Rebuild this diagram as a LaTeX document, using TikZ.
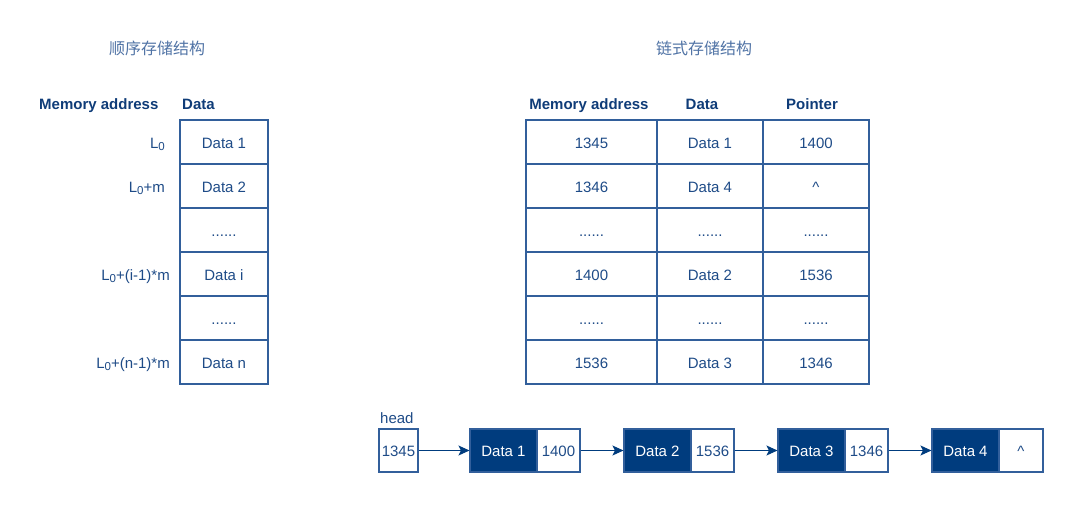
\documentclass[tikz,border=0pt]{standalone}
\usepackage{fontspec}
\setmainfont{Liberation Sans}
\newfontfamily\cjk{Noto Sans CJK SC}
\usetikzlibrary{arrows.meta}
\definecolor{dk}{RGB}{0,60,126}
\definecolor{ln}{RGB}{50,95,155}
\definecolor{tx}{RGB}{30,75,135}
\definecolor{hd}{RGB}{15,60,120}
\definecolor{tt}{RGB}{80,115,165}
\newcommand\mydots{......}
\newcommand\mycaret{\^{}}
\newcommand\sub[1]{\raisebox{-0.35ex}{\fontsize{11.5}{12}\selectfont #1}}
\begin{document}
\begin{tikzpicture}[x=1pt,y=-1pt,
  txt/.style={text=tx, font=\fontsize{15}{17}\selectfont, inner sep=0pt},
  cell/.style={txt, draw=ln, line width=1.1pt, minimum height=44pt, anchor=center, text height=12pt, text depth=0pt},
  hdr/.style={text=hd, font=\fontsize{15}{17}\selectfont\bfseries, inner sep=0pt},
  ttl/.style={text=tt, font=\cjk\fontsize{16}{18}\selectfont, inner sep=0pt},
  lcell/.style={cell, minimum height=43pt},
  dcell/.style={lcell, fill=dk, text=white},
  link/.style={draw=dk, line width=1pt, -{Stealth[length=11pt,width=10pt,inset=2.5pt]}}
]
\useasboundingbox (0,0) rectangle (1080,509);

% titles
\node[ttl] (t1) at (157,48) {顺序存储结构};
\node[ttl] (t2) at (704,48) {链式存储结构};

% left table
\node[hdr, anchor=base west] (lh1) at (39,109.5) {Memory address};
\node[hdr, anchor=base west] (lh2) at (182,109.5) {Data};
\node[cell, minimum width=88pt] (l1) at (224,142) {Data 1};
\node[cell, minimum width=88pt] (l2) at (224,186) {Data 2};
\node[cell, minimum width=88pt] (l3) at (224,230) {\mydots};
\node[cell, minimum width=88pt] (l4) at (224,274) {Data i};
\node[cell, minimum width=88pt] (l5) at (224,318) {\mydots};
\node[cell, minimum width=88pt] (l6) at (224,362) {Data n};
\node[txt, anchor=base east] (a1) at (165,148) {L\sub{0}};
\node[txt, anchor=base east] (a2) at (165,192) {L\sub{0}+m};
\node[txt, anchor=base east] (a4) at (170,280) {L\sub{0}+(i-1)*m};
\node[txt, anchor=base east] (a6) at (170,368) {L\sub{0}+(n-1)*m};

% right table
\node[hdr, anchor=base] (rh1) at (589,109.5) {Memory address};
\node[hdr, anchor=base] (rh2) at (702,109.5) {Data};
\node[hdr, anchor=base] (rh3) at (812,109.5) {Pointer};
\foreach \i/\y/\a/\d/\p in {1/142/1345/Data 1/1400, 2/186/1346/Data 4/\mycaret, 3/230/\mydots/\mydots/\mydots, 4/274/1400/Data 2/1536, 5/318/\mydots/\mydots/\mydots, 6/362/1536/Data 3/1346}{
  \node[cell, minimum width=131pt] (ra\i) at (591.5,\y) {\a};
  \node[cell, minimum width=106pt] (rd\i) at (710,\y) {\d};
  \node[cell, minimum width=106pt] (rp\i) at (816,\y) {\p};
}

% linked list
\node[txt, anchor=base west] (hl) at (380,423) {head};
\node[lcell, minimum width=39pt] (h) at (398.5,450.5) {1345};
\node[dcell, minimum width=67pt] (d1) at (503.5,450.5) {Data 1};
\node[lcell, minimum width=43pt] (p1) at (558.5,450.5) {1400};
\node[dcell, minimum width=67pt] (d2) at (657.5,450.5) {Data 2};
\node[lcell, minimum width=43pt] (p2) at (712.5,450.5) {1536};
\node[dcell, minimum width=67pt] (d3) at (811.5,450.5) {Data 3};
\node[lcell, minimum width=43pt] (p3) at (866.5,450.5) {1346};
\node[dcell, minimum width=67pt] (d4) at (965.5,450.5) {Data 4};
\node[lcell, minimum width=44pt] (p4) at (1021,450.5) {\mycaret};

\draw[link] (h.east) -- (d1.west);
\draw[link] (p1.east) -- (d2.west);
\draw[link] (p2.east) -- (d3.west);
\draw[link] (p3.east) -- (d4.west);
\end{tikzpicture}
\end{document}
